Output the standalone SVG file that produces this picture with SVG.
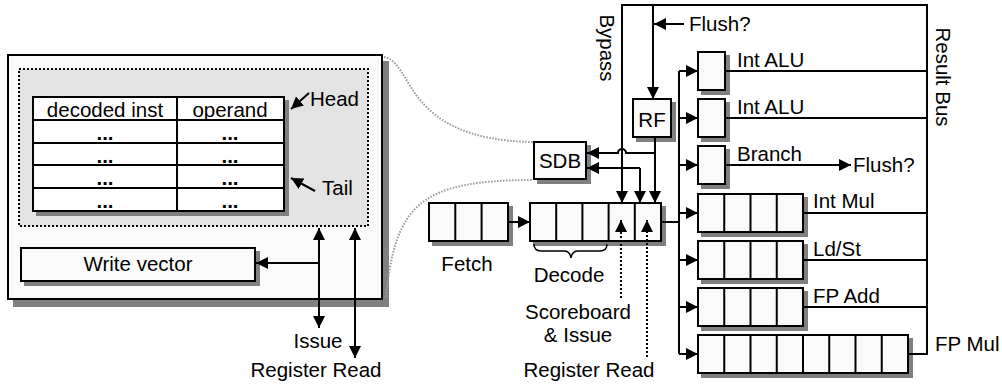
<svg xmlns="http://www.w3.org/2000/svg" width="1002" height="388" viewBox="0 0 1002 388">
<style>
text{font-family:"Liberation Sans",Arial,sans-serif;font-size:20.5px;fill:#000}
.m{text-anchor:middle}
.box{fill:#fafafa;stroke:#000;stroke-width:2}
.ln{fill:none;stroke:#000;stroke-width:2}
.dot{fill:none;stroke:#000;stroke-width:2;stroke-dasharray:2 2}
.curve{fill:none;stroke:#999;stroke-width:2;stroke-dasharray:1.5 1.5}
.b{font-weight:bold}
</style>
<defs>
<marker id="ah" markerUnits="userSpaceOnUse" markerWidth="13" markerHeight="13" refX="12" refY="6" orient="auto-start-reverse" viewBox="0 0 13 13">
<path d="M0,0 L12,6 L0,12 z" fill="#000"/>
</marker>
<filter id="sh" x="-10%" y="-10%" width="130%" height="140%">
<feOffset in="SourceAlpha" dx="4" dy="4" result="o"/>
<feFlood flood-color="#808080"/>
<feComposite in2="o" operator="in" result="s"/>
<feMerge><feMergeNode in="s"/><feMergeNode in="SourceGraphic"/></feMerge>
</filter>
<filter id="sh6" x="-10%" y="-10%" width="130%" height="130%">
<feOffset in="SourceAlpha" dx="6" dy="7" result="o"/>
<feFlood flood-color="#808080"/>
<feComposite in2="o" operator="in" result="s"/>
<feMerge><feMergeNode in="s"/><feMergeNode in="SourceGraphic"/></feMerge>
</filter>
</defs>

<g id="scoreboard-detail">
<rect x="8" y="55" width="374" height="244" class="box" filter="url(#sh6)"/>
<rect x="19" y="69" width="349" height="157" fill="#e3e3e3" stroke="#000" stroke-width="2" stroke-dasharray="2 2"/>
<g id="table" filter="url(#sh)">
<rect x="33" y="97" width="251" height="114" fill="#fff" stroke="#000" stroke-width="2"/>
<path class="ln" d="M33,120H284M33,143H284M33,165H284M33,188H284M177,97V211"/>
</g>
<text x="105" y="117" class="m">decoded inst</text>
<text x="230" y="117" class="m">operand</text>
<text x="105" y="140" class="m b">...</text>
<text x="230" y="140" class="m b">...</text>
<text x="105" y="163" class="m b">...</text>
<text x="230" y="163" class="m b">...</text>
<text x="105" y="185" class="m b">...</text>
<text x="230" y="185" class="m b">...</text>
<text x="105" y="208" class="m b">...</text>
<text x="230" y="208" class="m b">...</text>
<text x="310" y="106">Head</text>
<text x="322" y="195">Tail</text>
<g id="write-vector">
<rect x="21" y="248" width="234" height="33" class="box" filter="url(#sh)"/>
<text x="138" y="271" class="m">Write vector</text>
</g>
</g>

<g id="labels-left">
<text x="318" y="348" class="m">Issue</text>
<text x="316" y="377" class="m">Register Read</text>
</g>

<g id="sdb">
<rect x="534" y="142" width="52" height="37" class="box" filter="url(#sh)"/>
<text x="560" y="168" class="m">SDB</text>
</g>
<g id="rf">
<rect x="633" y="99" width="38" height="38" class="box" filter="url(#sh)"/>
<text x="652" y="127" class="m">RF</text>
</g>

<g id="fetch">
<g filter="url(#sh)">
<rect x="429" y="203" width="79" height="38" class="box"/>
<path class="ln" d="M455.3,203V241M481.6,203V241"/>
</g>
<text x="467" y="271" class="m">Fetch</text>
</g>
<g id="decode">
<g filter="url(#sh)">
<rect x="530" y="203" width="131" height="38" class="box"/>
<path class="ln" d="M556.2,203V241M582.4,203V241M608.6,203V241M634.8,203V241"/>
</g>
<path d="M534,244 Q534,251 541,251 H564 Q570,251 571,258 Q572,251 578,251 H600 Q607,251 607,244" fill="none" stroke="#000" stroke-width="1.5"/>
<text x="569" y="282" class="m">Decode</text>
<text x="578" y="319" class="m">Scoreboard</text>
<text x="578" y="342" class="m">&amp; Issue</text>
<text x="589" y="377" class="m">Register Read</text>
</g>

<g id="int-alu-1">
<rect x="698" y="52" width="27" height="38" class="box" filter="url(#sh)"/>
<text x="737" y="67">Int ALU</text>
</g>
<g id="int-alu-2">
<rect x="698" y="99" width="27" height="38" class="box" filter="url(#sh)"/>
<text x="737" y="114">Int ALU</text>
</g>
<g id="branch">
<rect x="698" y="146" width="27" height="38" class="box" filter="url(#sh)"/>
<text x="737" y="161">Branch</text>
<text x="853" y="172">Flush?</text>
</g>
<g id="int-mul">
<g filter="url(#sh)">
<rect x="698" y="194" width="105" height="38" class="box"/>
<path class="ln" d="M724.25,194V232M750.5,194V232M776.75,194V232"/>
</g>
<text x="813" y="208">Int Mul</text>
</g>
<g id="ld-st">
<g filter="url(#sh)">
<rect x="698" y="241" width="105" height="38" class="box"/>
<path class="ln" d="M724.25,241V279M750.5,241V279M776.75,241V279"/>
</g>
<text x="813" y="256">Ld/St</text>
</g>
<g id="fp-add">
<g filter="url(#sh)">
<rect x="698" y="288" width="105" height="38" class="box"/>
<path class="ln" d="M724.25,288V326M750.5,288V326M776.75,288V326"/>
</g>
<text x="813" y="303">FP Add</text>
</g>
<g id="fp-mul">
<g filter="url(#sh)">
<rect x="698" y="335" width="210" height="38" class="box"/>
<path class="ln" d="M724.25,335V373M750.5,335V373M776.75,335V373M803,335V373M829.25,335V373M855.5,335V373M881.75,335V373"/>
</g>
<text x="935" y="351">FP Mul</text>
</g>

<g id="bus-labels">
<text class="m" transform="translate(600,48) rotate(90)">Bypass</text>
<text class="m" transform="translate(936,77) rotate(90)">Result Bus</text>
<text x="689" y="31">Flush?</text>
</g>

<g id="connectors">
<path class="curve" d="M384,57 C414,62 402,140 533,142"/>
<path class="curve" d="M386,297 C395,205 420,180 533,180"/>
<path class="ln" d="M319,228V328" marker-start="url(#ah)" marker-end="url(#ah)"/>
<path class="ln" d="M355,228V358" marker-start="url(#ah)" marker-end="url(#ah)"/>
<path class="ln" d="M319,263H256" marker-end="url(#ah)"/>
<path class="ln" d="M309,93L291,109" marker-end="url(#ah)"/>
<path class="ln" d="M315,191L291,178" marker-end="url(#ah)"/>
<path class="ln" d="M622,202V5H927V354H908"/>
<path class="ln" d="M622,5V203" marker-end="url(#ah)"/>
<path class="ln" d="M653,5V99" marker-end="url(#ah)"/>
<path class="ln" d="M684,24H654" marker-end="url(#ah)"/>
<path class="ln" d="M655,137V203" marker-end="url(#ah)"/>
<path class="ln" d="M655,153H626a4,4 0 0 0 -8,0H587" marker-end="url(#ah)"/>
<path class="ln" d="M640,168V203" marker-end="url(#ah)"/>
<path class="ln" d="M640,168H587" marker-end="url(#ah)"/>
<path class="ln" d="M508,222H530" marker-end="url(#ah)"/>
<path class="dot" d="M621,298V220" marker-end="url(#ah)"/>
<path class="dot" d="M647,357V220" marker-end="url(#ah)"/>
<path class="ln" d="M661,222H679M679,71V354"/>
<path class="ln" d="M679,71H698" marker-end="url(#ah)"/>
<path class="ln" d="M679,118H698" marker-end="url(#ah)"/>
<path class="ln" d="M679,165H698" marker-end="url(#ah)"/>
<path class="ln" d="M679,213H698" marker-end="url(#ah)"/>
<path class="ln" d="M679,260H698" marker-end="url(#ah)"/>
<path class="ln" d="M679,307H698" marker-end="url(#ah)"/>
<path class="ln" d="M679,354H698" marker-end="url(#ah)"/>
<path class="ln" d="M725,71H927M725,118H927M803,213H927M803,260H927M803,307H927"/>
<path class="ln" d="M725,165H851" marker-end="url(#ah)"/>
</g>
</svg>
